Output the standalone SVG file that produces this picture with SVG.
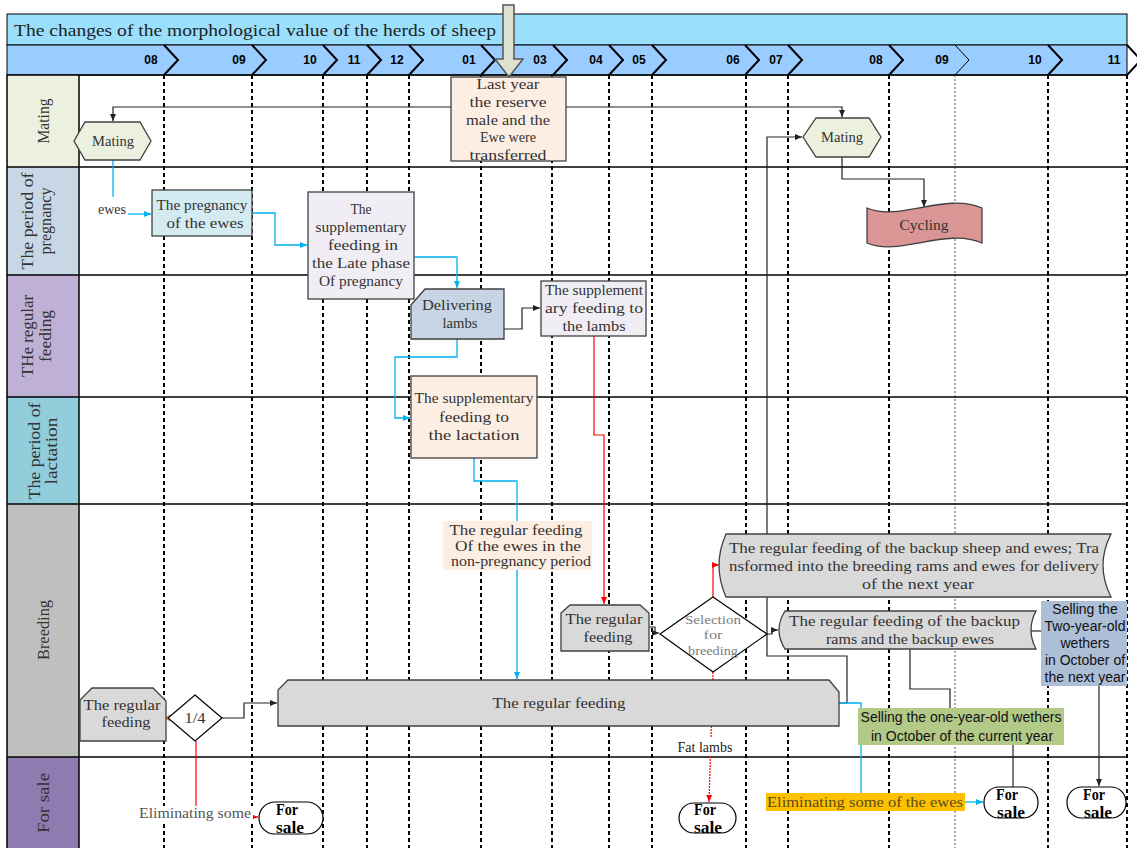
<svg xmlns="http://www.w3.org/2000/svg" width="1137" height="848" viewBox="0 0 1137 848">
<defs>
<style>
text{font-family:"Liberation Serif","Times New Roman",serif;font-size:15px;fill:#333;text-anchor:middle;dominant-baseline:central}
.lane{font-size:16px;fill:#333}
.mon{font-family:"Liberation Sans",Arial,sans-serif;font-weight:bold;font-size:12px;fill:#000}
.sans{font-family:"Liberation Sans",Arial,sans-serif;font-size:14px;fill:#111}
.fs{font-weight:bold;fill:#000;text-anchor:start;font-size:16px}
.st{text-anchor:start}
.dash{stroke:#000;stroke-width:2;stroke-dasharray:4 3}
.hl{stroke:#000;stroke-width:1.5}
.node{stroke:#404040;stroke-width:1.3}
.cb{fill:none;stroke:#222;stroke-width:1.2}
.cl{fill:none;stroke:#00b0f0;stroke-width:1.3}
.cr{fill:none;stroke:#f00;stroke-width:1.2}
.chev{fill:none;stroke:#000;stroke-width:2}
</style>
<marker id="ab" markerWidth="8" markerHeight="8" refX="7" refY="4" orient="auto" markerUnits="userSpaceOnUse"><path d="M0,1 L7,4 L0,7 Z" fill="#222"/></marker>
<marker id="al" markerWidth="8" markerHeight="8" refX="7" refY="4" orient="auto" markerUnits="userSpaceOnUse"><path d="M0,1 L7,4 L0,7 Z" fill="#00b0f0"/></marker>
<marker id="ar" markerWidth="8" markerHeight="8" refX="7" refY="4" orient="auto" markerUnits="userSpaceOnUse"><path d="M0,1 L7,4 L0,7 Z" fill="#f00"/></marker>
</defs>
<rect width="1137" height="848" fill="#fff"/>

<g id="title">
<rect x="7" y="14" width="1120" height="31" fill="#9ae0fd" stroke="#000"/>
<text x="14" y="30" class="st" style="font-size:17px;fill:#222" textLength="482" lengthAdjust="spacingAndGlyphs">The changes of the morphological value of the herds of sheep</text>
</g>

<g id="months">
<rect x="7" y="45" width="1120" height="30" fill="#99ccff" stroke="#000"/>
<polyline class="chev" points="164,45 178,60 164,75"/>
<polyline class="chev" points="252,45 266,60 252,75"/>
<polyline class="chev" points="323,45 337,60 323,75"/>
<polyline class="chev" points="367,45 381,60 367,75"/>
<polyline class="chev" points="409,45 423,60 409,75"/>
<polyline class="chev" points="481,45 495,60 481,75"/>
<polyline class="chev" points="553,45 567,60 553,75"/>
<polyline class="chev" points="609,45 623,60 609,75"/>
<polyline class="chev" points="652,45 666,60 652,75"/>
<polyline class="chev" points="745,45 759,60 745,75"/>
<polyline class="chev" points="788,45 802,60 788,75"/>
<polyline class="chev" points="889,45 903,60 889,75"/>
<polyline points="955,45 969,60 955,75" fill="none" stroke="#000" stroke-width="1"/>
<polyline class="chev" points="1048,45 1062,60 1048,75"/>
<polyline class="chev" points="1127,45 1141,60 1127,75"/>
<text class="mon" x="151" y="60">08</text>
<text class="mon" x="239" y="60">09</text>
<text class="mon" x="310" y="60">10</text>
<text class="mon" x="354" y="60">11</text>
<text class="mon" x="397" y="60">12</text>
<text class="mon" x="469" y="60">01</text>
<text class="mon" x="540" y="60">03</text>
<text class="mon" x="596" y="60">04</text>
<text class="mon" x="639" y="60">05</text>
<text class="mon" x="733" y="60">06</text>
<text class="mon" x="776" y="60">07</text>
<text class="mon" x="876" y="60">08</text>
<text class="mon" x="942" y="60">09</text>
<text class="mon" x="1035" y="60">10</text>
<text class="mon" x="1114" y="60">11</text>
</g>

<g id="lanes">
<rect x="7" y="75" width="72" height="92" fill="#ebf1de"/>
<rect x="7" y="167" width="72" height="108" fill="#c8d7e6"/>
<rect x="7" y="275" width="72" height="122" fill="#bfb0d5"/>
<rect x="7" y="397" width="72" height="107" fill="#92cddc"/>
<rect x="7" y="504" width="72" height="253" fill="#bfbfbf"/>
<rect x="7" y="757" width="72" height="91" fill="#8e7bb0"/>
<text class="lane" x="43" y="121" transform="rotate(-90 43 121)" textLength="45" lengthAdjust="spacingAndGlyphs">Mating</text>
<text class="lane" x="27.5" y="221" transform="rotate(-90 27.5 221)" textLength="97" lengthAdjust="spacingAndGlyphs">The period of</text>
<text class="lane" x="45" y="221" transform="rotate(-90 45 221)" textLength="67" lengthAdjust="spacingAndGlyphs">pregnancy</text>
<text class="lane" x="27" y="336" transform="rotate(-90 27 336)" textLength="82" lengthAdjust="spacingAndGlyphs">THe regular</text>
<text class="lane" x="45" y="336" transform="rotate(-90 45 336)" textLength="52" lengthAdjust="spacingAndGlyphs">feeding</text>
<text class="lane" x="34.5" y="451" transform="rotate(-90 34.5 451)" textLength="97" lengthAdjust="spacingAndGlyphs">The period of</text>
<text class="lane" x="51" y="451" transform="rotate(-90 51 451)" textLength="67" lengthAdjust="spacingAndGlyphs">lactation</text>
<text class="lane" x="43" y="630" transform="rotate(-90 43 630)" textLength="60" lengthAdjust="spacingAndGlyphs">Breeding</text>
<text class="lane" x="43" y="803" transform="rotate(-90 43 803)" textLength="60" lengthAdjust="spacingAndGlyphs">For sale</text>
</g>

<g id="gridlines">
<line class="dash" x1="164" y1="75" x2="164" y2="848"/>
<line class="dash" x1="252" y1="75" x2="252" y2="848"/>
<line class="dash" x1="323" y1="75" x2="323" y2="848"/>
<line class="dash" x1="367" y1="75" x2="367" y2="848"/>
<line class="dash" x1="409" y1="75" x2="409" y2="848"/>
<line class="dash" x1="481" y1="75" x2="481" y2="848"/>
<line class="dash" x1="552" y1="75" x2="552" y2="848"/>
<line class="dash" x1="609" y1="75" x2="609" y2="848"/>
<line class="dash" x1="652" y1="75" x2="652" y2="848"/>
<line class="dash" x1="746" y1="75" x2="746" y2="848"/>
<line class="dash" x1="788" y1="75" x2="788" y2="848"/>
<line class="dash" x1="889" y1="75" x2="889" y2="848"/>
<line x1="955" y1="75" x2="955" y2="848" stroke="#555" stroke-width="1" stroke-dasharray="2 2"/>
<line class="dash" x1="1048" y1="75" x2="1048" y2="848"/>
<line class="dash" x1="1127" y1="75" x2="1127" y2="848"/>
<line class="hl" x1="7" y1="75" x2="1127" y2="75"/>
<line class="hl" x1="7" y1="167" x2="1127" y2="167"/>
<line class="hl" x1="7" y1="275" x2="1127" y2="275"/>
<line class="hl" x1="7" y1="397" x2="1127" y2="397"/>
<line class="hl" x1="7" y1="504" x2="1127" y2="504"/>
<line class="hl" x1="7" y1="757" x2="1127" y2="757"/>
<line class="hl" x1="7" y1="75" x2="7" y2="848"/>
<line class="hl" x1="79" y1="75" x2="79" y2="848"/>
</g>

<g id="connectors">
<path class="cb" d="M451,107 H113 V121" marker-end="url(#ab)"/>
<path class="cb" d="M566,107 H842 V117" marker-end="url(#ab)"/>
<path class="cb" d="M500,329 H522 V308 H540" marker-end="url(#ab)"/>
<path class="cb" d="M222,718 H244 V703 H277" marker-end="url(#ab)"/>
<path class="cb" d="M649,627 H655 V633 H659" marker-end="url(#ab)"/>
<path class="cb" d="M767,634 H772 V630 H778" marker-end="url(#ab)"/>
<path class="cb" d="M839,703 H847 V656 H767 V137 H802" marker-end="url(#ab)"/>
<path class="cb" d="M842,157 V179 H924 V207" marker-end="url(#ab)"/>
<path class="cb" d="M910,649 V689 H950 V708"/>
<path class="cb" d="M1013,745 V800" marker-end="url(#ab)"/>
<path class="cb" d="M1031,631 H1041"/>
<path class="cb" d="M1099,686 V786" marker-end="url(#ab)"/>
<path class="cl" d="M113,160 V197"/>
<path class="cl" d="M128,214 H151" marker-end="url(#al)"/>
<path class="cl" d="M252,213 H275 V245 H307" marker-end="url(#al)"/>
<path class="cl" d="M414,257 H457 V288" marker-end="url(#al)"/>
<path class="cl" d="M457,339 V357 H395 V418 H410" marker-end="url(#al)"/>
<path class="cl" d="M474,458 V481 H517 V679" marker-end="url(#al)"/>
<path class="cl" d="M839,703 H861 V793"/>
<path class="cl" d="M965,802 H983" marker-end="url(#al)"/>
<path class="cr" d="M594,336 V435 H604 V604" marker-end="url(#ar)"/>
<path class="cr" d="M713,597 V565 H719" marker-end="url(#ar)"/>
<path class="cr" d="M713,672 L709,802" stroke-dasharray="2 1" marker-end="url(#ar)"/>
<path class="cr" d="M196,741 V806"/>
<path class="cr" d="M251,817 H258" marker-end="url(#ar)"/>
<polygon points="163,718 170,714.5 170,721.5" fill="#f79646"/>
</g>

<g id="n-lastyear">
<rect class="node" x="451" y="77" width="115" height="84" fill="#fdeee3"/>
<text x="508" y="84" textLength="63" lengthAdjust="spacingAndGlyphs">Last year</text>
<text x="508" y="102" textLength="77" lengthAdjust="spacingAndGlyphs">the reserve</text>
<text x="508" y="120" textLength="84" lengthAdjust="spacingAndGlyphs">male and the</text>
<text x="508" y="137" textLength="56" lengthAdjust="spacingAndGlyphs">Ewe were</text>
<text x="508" y="155" textLength="77" lengthAdjust="spacingAndGlyphs">transferred</text>
</g>
<g id="n-mating1">
<polygon class="node" points="74,141 85,122 140,122 151,141 140,160 85,160" fill="#ebf0df"/>
<text x="113" y="141" textLength="42" lengthAdjust="spacingAndGlyphs">Mating</text>
</g>
<g id="n-mating2">
<polygon class="node" points="803,137 816,118 869,118 881,137 869,157 816,157" fill="#ebf0df"/>
<text x="842" y="137" textLength="42" lengthAdjust="spacingAndGlyphs">Mating</text>
</g>
<g id="l-ewes">
<rect x="96" y="201" width="32" height="16" fill="#fff"/>
<text x="112" y="209" textLength="28" lengthAdjust="spacingAndGlyphs">ewes</text>
</g>
<g id="n-pregnancy">
<rect class="node" x="152" y="190" width="100" height="46" fill="#d3ebf1"/>
<text x="202" y="205" textLength="91" lengthAdjust="spacingAndGlyphs">The pregnancy</text>
<text x="205" y="223" textLength="77" lengthAdjust="spacingAndGlyphs">of the ewes</text>
</g>
<g id="n-latephase">
<rect class="node" x="308" y="192" width="106" height="107" fill="#f0eef4"/>
<text x="361" y="209" textLength="21" lengthAdjust="spacingAndGlyphs">The</text>
<text x="361" y="227" textLength="91" lengthAdjust="spacingAndGlyphs">supplementary</text>
<text x="363" y="245" textLength="70" lengthAdjust="spacingAndGlyphs">feeding in</text>
<text x="361" y="263" textLength="98" lengthAdjust="spacingAndGlyphs">the Late phase</text>
<text x="361" y="281" textLength="84" lengthAdjust="spacingAndGlyphs">Of pregnancy</text>
</g>
<g id="n-delivering">
<path class="node" d="M425,289 H504 V339 H411 V305 Z" fill="#c6d4e4" stroke-width="1.8"/>
<text x="457" y="305" textLength="70" lengthAdjust="spacingAndGlyphs">Delivering</text>
<text x="460" y="323" textLength="35" lengthAdjust="spacingAndGlyphs">lambs</text>
</g>
<g id="n-lambs">
<rect class="node" x="541" y="281" width="105" height="55" fill="#f0eef4"/>
<text x="594" y="290" textLength="98" lengthAdjust="spacingAndGlyphs">The supplement</text>
<text x="594" y="308" textLength="98" lengthAdjust="spacingAndGlyphs">ary feeding to</text>
<text x="594" y="326" textLength="63" lengthAdjust="spacingAndGlyphs">the lambs</text>
</g>
<g id="n-lactation">
<rect class="node" x="411" y="376" width="126" height="82" fill="#fdeee3"/>
<text x="474" y="398" textLength="119" lengthAdjust="spacingAndGlyphs">The supplementary</text>
<text x="474" y="417" textLength="70" lengthAdjust="spacingAndGlyphs">feeding to</text>
<text x="474" y="435" textLength="91" lengthAdjust="spacingAndGlyphs">the lactation</text>
</g>
<g id="l-nonpreg">
<rect x="443" y="521" width="149" height="49" fill="#fdeee3"/>
<text x="516" y="530" textLength="133" lengthAdjust="spacingAndGlyphs">The regular feeding</text>
<text x="518" y="546" textLength="126" lengthAdjust="spacingAndGlyphs">Of the ewes in the</text>
<text x="521" y="561" textLength="140" lengthAdjust="spacingAndGlyphs">non-pregnancy period</text>
</g>
<g id="n-backup1">
<path class="node" d="M726,534 H1111 Q1095,565.5 1111,597 H726 Q712,565.5 726,534 Z" fill="#d9d9d9"/>
<text class="st" x="729" y="548" textLength="370" lengthAdjust="spacingAndGlyphs">The regular feeding of the backup sheep and ewes; Tra</text>
<text class="st" x="729" y="566" textLength="370" lengthAdjust="spacingAndGlyphs">nsformed into the breeding rams and ewes for delivery</text>
<text x="918" y="584" textLength="112" lengthAdjust="spacingAndGlyphs">of the next year</text>
</g>
<g id="n-backup2">
<path class="node" d="M785,611 H1036 Q1026,630 1036,649 H785 Q773,630 785,611 Z" fill="#d9d9d9"/>
<text class="st" x="789" y="621" textLength="231" lengthAdjust="spacingAndGlyphs">The regular feeding of the backup</text>
<text x="910" y="639" textLength="168" lengthAdjust="spacingAndGlyphs">rams and the backup ewes</text>
</g>
<g id="n-regular2">
<path class="node" d="M570,605 H640 L649,613 V651 H561 V613 Z" fill="#d9d9d9"/>
<text x="604" y="619" textLength="77" lengthAdjust="spacingAndGlyphs">The regular</text>
<text x="608" y="637" textLength="49" lengthAdjust="spacingAndGlyphs">feeding</text>
</g>
<g id="n-selection">
<polygon points="713,597 767,634 713,672 660,634" fill="#fff" stroke="#000" stroke-width="1.2"/>
<text x="713" y="619" style="font-size:13.5px;fill:#808080" textLength="56" lengthAdjust="spacingAndGlyphs">Selection</text>
<text x="713" y="634" style="font-size:13.5px;fill:#808080" textLength="19" lengthAdjust="spacingAndGlyphs">for</text>
<text x="713" y="650" style="font-size:13.5px;fill:#808080" textLength="50" lengthAdjust="spacingAndGlyphs">breeding</text>
</g>
<g id="n-regular1">
<path class="node" d="M92,688 H153 L166,701 V741 H80 V700 Z" fill="#d9d9d9"/>
<text x="122" y="705" textLength="77" lengthAdjust="spacingAndGlyphs">The regular</text>
<text x="126" y="722" textLength="49" lengthAdjust="spacingAndGlyphs">feeding</text>
</g>
<g id="n-quarter">
<polygon points="195,695 222,718 195,741 168,718" fill="#fff" stroke="#000" stroke-width="1.2"/>
<text x="195" y="718" textLength="21" lengthAdjust="spacingAndGlyphs">1/4</text>
</g>
<g id="n-regularbig">
<path class="node" d="M288,680 H829 L839,692 V726 H278 V690 Z" fill="#d9d9d9"/>
<text x="559" y="703" textLength="133" lengthAdjust="spacingAndGlyphs">The regular feeding</text>
</g>
<g id="n-cycling">
<path class="node" d="M867,208 C900,222 945,192 982,208 V243 C945,227 900,257 867,243 Z" fill="#d99694"/>
<text x="924" y="225" textLength="49" lengthAdjust="spacingAndGlyphs">Cycling</text>
</g>
<g id="l-elim1">
<rect x="137" y="806" width="116" height="16" fill="#fff"/>
<text x="195" y="813" style="fill:#555" textLength="112" lengthAdjust="spacingAndGlyphs">Eliminating some</text>
</g>
<g id="l-elim2">
<rect x="766" y="793" width="199" height="18" fill="#ffc000"/>
<text x="865" y="802" style="fill:#5a4d1a" textLength="196" lengthAdjust="spacingAndGlyphs">Eliminating some of the ewes</text>
</g>
<g id="l-fat">
<rect x="676" y="738" width="58" height="18" fill="#fff"/>
<text x="705" y="747" style="font-size:14px;fill:#222">Fat lambs</text>
</g>
<g id="n-sell1">
<rect x="858" y="708" width="206" height="37" fill="#b3c987"/>
<text class="sans" x="961" y="717">Selling the one-year-old wethers</text>
<text class="sans" x="962" y="736">in October of the current year</text>
</g>
<g id="n-sell2">
<rect x="1041" y="601" width="86" height="85" fill="#adbfd7"/>
<text class="sans" x="1085" y="609">Selling the</text>
<text class="sans" x="1085" y="626">Two-year-old</text>
<text class="sans" x="1085" y="643">wethers</text>
<text class="sans" x="1085" y="660">in October of</text>
<text class="sans" x="1085" y="677">the next year</text>
</g>
<g id="t-sale1">
<rect x="259" y="802" width="64" height="32" rx="16" fill="#fff" stroke="#000" stroke-width="1.2"/>
<text class="fs" x="276" y="809" textLength="22" lengthAdjust="spacingAndGlyphs">For</text>
<text class="fs" x="276" y="827" textLength="28" lengthAdjust="spacingAndGlyphs">sale</text>
</g>
<g id="t-sale2">
<rect x="679" y="803" width="57" height="30" rx="15" fill="#fff" stroke="#000" stroke-width="1.2"/>
<text class="fs" x="694" y="809" textLength="22" lengthAdjust="spacingAndGlyphs">For</text>
<text class="fs" x="694" y="827" textLength="28" lengthAdjust="spacingAndGlyphs">sale</text>
</g>
<g id="t-sale3">
<rect x="984" y="787" width="54" height="31" rx="15" fill="#fff" stroke="#000" stroke-width="1.2"/>
<text class="fs" x="996" y="794" textLength="22" lengthAdjust="spacingAndGlyphs">For</text>
<text class="fs" x="997" y="812" textLength="28" lengthAdjust="spacingAndGlyphs">sale</text>
</g>
<g id="t-sale4">
<rect x="1067" y="787" width="59" height="31" rx="15" fill="#fff" stroke="#000" stroke-width="1.2"/>
<text class="fs" x="1083" y="794" textLength="22" lengthAdjust="spacingAndGlyphs">For</text>
<text class="fs" x="1084" y="812" textLength="28" lengthAdjust="spacingAndGlyphs">sale</text>
</g>
<g id="n-bigarrow">
<polygon points="503,5 514,5 514,59 523,59 509,77 495,59 503,59" fill="#dce2cf" stroke="#555" stroke-width="1.5"/>
</g>
</svg>
